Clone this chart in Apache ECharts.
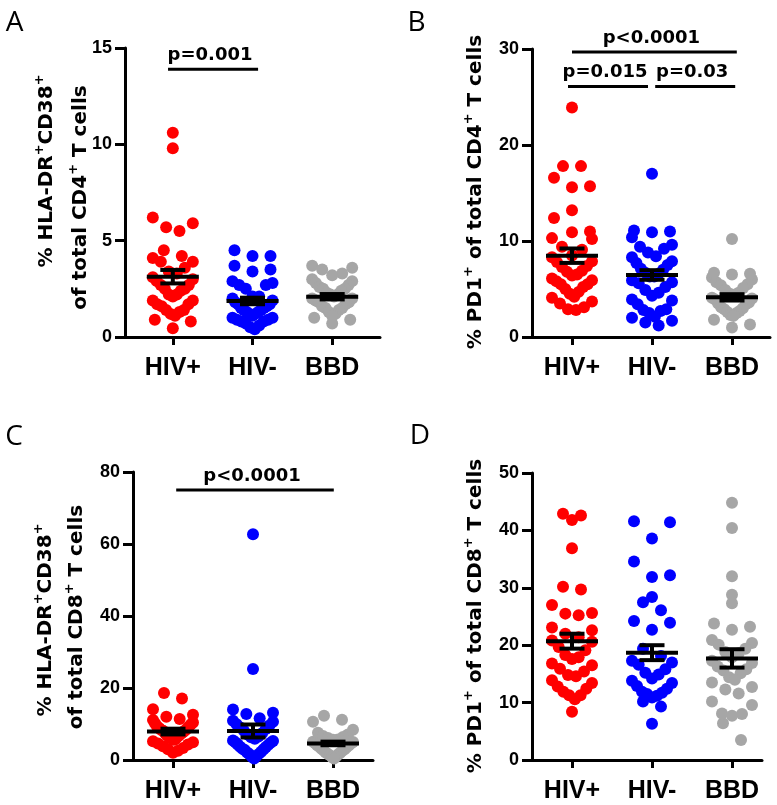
<!DOCTYPE html>
<html>
<head>
<meta charset="utf-8">
<script src="https://cdn.jsdelivr.net/npm/echarts@6/dist/echarts.min.js"></script>
<style>
  html, body { margin: 0; padding: 0; background: #fff; }
  #chart { width: 777px; height: 805px; }
</style>
</head>
<body>
<div id="chart"></div>
<script>
const groups = ['HIV+', 'HIV-', 'BBD']
const groupColors = ['#ff0000', '#0000ff', '#a6a6a6']

// A - % HLA-DR+CD38+ of CD4+
const aHivPos = [10.6, 9.8, 6.2, 5.9, 5.7, 5.5, 4.5, 4.2, 4.1, 3.9, 3.9, 3.6, 3.4, 3.3, 3.1, 3.0, 2.9, 2.7, 2.7, 2.5, 2.5, 2.4, 2.2, 2.2, 2.1, 1.9, 1.9, 1.7, 1.7, 1.6, 1.4, 1.4, 1.3, 1.2, 1.1, 0.9, 0.8, 0.45]
const aHivNeg = [4.5, 4.2, 4.2, 3.7, 3.5, 3.4, 2.9, 2.8, 2.7, 2.7, 2.5, 2.1, 2.1, 2.0, 1.9, 1.8, 1.7, 1.7, 1.6, 1.5, 1.5, 1.4, 1.4, 1.3, 1.3, 1.2, 1.2, 1.1, 1.0, 1.0, 0.9, 0.9, 0.8, 0.8, 0.7, 0.6, 0.5, 0.4]
const aBbd = [3.7, 3.6, 3.5, 3.3, 3.2, 3.0, 2.9, 2.8, 2.7, 2.6, 2.5, 2.5, 2.4, 2.3, 2.2, 2.2, 2.1, 2.0, 2.0, 1.9, 1.8, 1.8, 1.7, 1.6, 1.5, 1.5, 1.4, 1.3, 1.2, 1.1, 1.0, 0.9, 0.7]
const aMean = [3.13, 1.87, 2.09]
const aSem = [0.35, 0.17, 0.14]
const aBrackets = [[-0.06, 1.07, 13.9]]
const aPLabels = ['p=0.001']

// B - % PD1+ of CD4+
const bHivPos = [23.9, 17.8, 17.8, 16.6, 15.7, 15.6, 13.2, 12.4, 11.0, 10.9, 10.3, 10.2, 9.4, 9.1, 8.5, 8.3, 7.9, 7.8, 7.4, 7.3, 6.9, 6.8, 6.5, 6.4, 6.1, 5.9, 5.8, 5.5, 5.5, 5.2, 5.0, 4.7, 4.5, 4.2, 4.1, 3.7, 3.5, 3.1, 2.9, 2.8]
const bHivNeg = [17.0, 11.1, 11.0, 10.9, 10.4, 9.6, 9.4, 9.2, 8.8, 8.4, 8.3, 7.9, 7.7, 7.5, 7.1, 7.0, 6.7, 6.6, 6.3, 6.3, 5.9, 5.7, 5.6, 5.2, 4.9, 4.6, 4.3, 3.9, 3.8, 3.4, 2.9, 2.8, 2.7, 2.5, 2.1, 2.0, 1.7, 1.5, 1.2]
const bBbd = [10.2, 6.7, 6.6, 6.5, 6.2, 6.0, 5.7, 5.5, 5.4, 5.1, 4.9, 4.6, 4.5, 4.4, 4.1, 4.0, 3.9, 3.6, 3.5, 3.4, 3.1, 3.0, 2.9, 2.7, 2.6, 2.5, 2.3, 2.2, 1.8, 1.3, 1.0]
const bMean = [8.47, 6.46, 4.13]
const bSem = [0.75, 0.5, 0.33]
const bBrackets = [[0.0, 2.06, 29.7], [-0.05, 0.95, 26.1], [1.04, 2.04, 26.1]]
const bPLabels = ['p<0.0001', 'p=0.015', 'p=0.03']

// C - % HLA-DR+CD38+ of CD8+
const cHivPos = [18.6, 17.1, 14.1, 12.6, 12.0, 11.4, 11.1, 10.4, 10.2, 9.9, 9.4, 9.3, 8.9, 8.7, 8.4, 8.2, 8.1, 7.7, 7.5, 7.3, 6.9, 6.8, 6.4, 6.3, 6.0, 5.7, 5.6, 5.2, 4.9, 4.6, 4.3, 3.8, 3.3, 3.0, 2.6, 2.0]
const cHivNeg = [62.7, 25.3, 14.0, 13.1, 12.8, 11.6, 10.9, 10.6, 9.9, 9.6, 9.0, 8.6, 8.1, 7.4, 7.1, 6.5, 6.3, 5.9, 5.4, 5.3, 4.9, 4.8, 4.3, 4.2, 3.7, 3.6, 3.1, 3.0, 2.8, 2.3, 2.1, 1.7, 1.6, 1.1, 0.9, 0.4]
const cBbd = [12.3, 11.2, 10.6, 8.4, 7.6, 7.1, 6.7, 6.4, 6.1, 5.7, 5.6, 5.1, 5.0, 4.7, 4.6, 4.1, 4.0, 3.7, 3.6, 3.1, 3.0, 2.7, 2.6, 2.1, 2.0, 1.7, 1.6, 1.3, 1.0, 0.8, 0.4]
const cMean = [7.9, 8.06, 4.6]
const cSem = [0.8, 1.8, 0.5]
const cBrackets = [[0.04, 2.01, 75]]
const cPLabels = ['p<0.0001']

// D - % PD1+ of CD8+
const dHivPos = [42.9, 42.6, 41.8, 36.9, 30.2, 29.7, 27.0, 25.6, 25.5, 25.2, 23.1, 22.6, 22.0, 21.4, 20.8, 20.6, 19.7, 19.1, 18.3, 17.9, 17.6, 16.8, 16.5, 15.9, 15.4, 14.8, 14.6, 13.9, 13.4, 12.8, 12.4, 11.9, 11.3, 11.3, 10.6, 8.4]
const dHivNeg = [41.6, 41.4, 38.6, 34.6, 32.2, 31.9, 28.4, 27.5, 26.1, 24.2, 23.9, 22.7, 19.4, 18.1, 17.3, 17.0, 16.6, 15.8, 15.2, 14.9, 14.2, 13.8, 13.4, 12.9, 12.4, 11.9, 11.7, 11.5, 11.2, 10.9, 10.2, 9.3, 6.3]
const dBbd = [44.8, 40.4, 32.0, 28.8, 27.3, 23.8, 23.2, 22.7, 20.9, 20.4, 20.1, 19.4, 18.8, 18.6, 17.9, 17.3, 16.9, 16.3, 15.8, 15.6, 15.1, 14.4, 14.0, 13.5, 12.7, 12.3, 11.6, 10.2, 9.6, 8.1, 8.0, 7.7, 6.4, 3.5]
const dMean = [20.7, 18.7, 17.7]
const dSem = [1.3, 1.3, 1.6]

// layout of the four panels
const panels = [
  { data: [aHivPos, aHivNeg, aBbd], mean: aMean, sem: aSem, brackets: aBrackets, pLabels: aPLabels,
    grid: { left: 125, top: 48, width: 255, height: 289 }, xr: [-0.6, 2.6], yr: [0, 15], step: 5 },
  { data: [bHivPos, bHivNeg, bBbd], mean: bMean, sem: bSem, brackets: bBrackets, pLabels: bPLabels,
    grid: { left: 532, top: 49, width: 238, height: 288 }, xr: [-0.5, 2.475], yr: [0, 30], step: 10 },
  { data: [cHivPos, cHivNeg, cBbd], mean: cMean, sem: cSem, brackets: cBrackets, pLabels: cPLabels,
    grid: { left: 133, top: 472, width: 240, height: 288 }, xr: [-0.5, 2.5], yr: [0, 80], step: 20 },
  { data: [dHivPos, dHivNeg, dBbd], mean: dMean, sem: dSem, brackets: [], pLabels: [],
    grid: { left: 532, top: 473, width: 230, height: 287 }, xr: [-0.5, 2.375], yr: [0, 50], step: 10 }
]

const DOT = 12
const BIN_PX = 20
const HALF_MAX = 20
const STEP_MAX = 18

// GraphPad-like spreading: values close in height share a row, spread around the group centre
function spread(values, idx, p) {
  const pxY = p.grid.height / (p.yr[1] - p.yr[0])
  const pxX = p.grid.width / (p.xr[1] - p.xr[0])
  const bins = {}
  values.forEach(v => {
    const b = Math.floor(v * pxY / BIN_PX)
    ;(bins[b] = bins[b] || []).push(v)
  })
  const pts = []
  Object.values(bins).forEach(list => {
    list.sort((a, b) => b - a)
    const n = list.length
    const step = n > 1 ? Math.min(STEP_MAX, 2 * HALF_MAX / (n - 1)) : 0
    const slots = list.map((v, k) => (k - (n - 1) / 2) * step)
    const order = []
    let l = 0, r = n - 1
    while (l <= r) {
      order.push(l++)
      if (l <= r) order.push(r--)
    }
    list.forEach((v, j) => pts.push([idx + slots[order[j]] / pxX, v]))
  })
  return pts
}

const axisColor = '#000'
const grids = [], xAxes = [], yAxes = [], series = []

panels.forEach((p, i) => {
  grids.push(p.grid)
  xAxes.push({
    type: 'value', gridIndex: i, min: p.xr[0], max: p.xr[1],
    splitLine: { show: false },
    axisLine: { show: true, onZero: false, lineStyle: { color: axisColor, width: 3 } },
    axisTick: { show: true, customValues: [0, 1, 2], length: 8, lineStyle: { color: axisColor, width: 3 } },
    axisLabel: {
      customValues: [0, 1, 2], formatter: v => groups[v], margin: 19,
      fontSize: 25, fontWeight: 'bold', fontFamily: 'Liberation Sans', color: '#000'
    }
  })
  yAxes.push({
    type: 'value', gridIndex: i, min: p.yr[0], max: p.yr[1], interval: p.step,
    splitLine: { show: false },
    axisLine: { show: true, onZero: false, lineStyle: { color: axisColor, width: 3 } },
    axisTick: { show: true, length: 10, lineStyle: { color: axisColor, width: 3 } },
    axisLabel: { margin: 13, fontSize: 18, fontWeight: 'bold', fontFamily: 'Liberation Sans', color: '#000' }
  })

  p.data.forEach((vals, g) => {
    series.push({
      type: 'scatter', xAxisIndex: i, yAxisIndex: i, symbolSize: DOT, z: 2,
      itemStyle: { color: groupColors[g], opacity: 1 },
      data: spread(vals, g, p)
    })
  })

  // mean +/- SEM
  series.push({
    type: 'custom', xAxisIndex: i, yAxisIndex: i, z: 5,
    data: groups.map((g, k) => [k, p.mean[k], p.sem[k]]),
    renderItem: (params, api) => {
      const c = api.coord([api.value(0), api.value(1)])
      const hi = api.coord([api.value(0), api.value(1) + api.value(2)])
      const lo = api.coord([api.value(0), api.value(1) - api.value(2)])
      const st = { stroke: '#000', lineWidth: 4 }
      return {
        type: 'group',
        children: [
          { type: 'line', shape: { x1: c[0] - 26, y1: c[1], x2: c[0] + 26, y2: c[1] }, style: st },
          { type: 'line', shape: { x1: c[0], y1: hi[1], x2: c[0], y2: lo[1] }, style: st },
          { type: 'line', shape: { x1: c[0] - 12.5, y1: hi[1], x2: c[0] + 12.5, y2: hi[1] }, style: st },
          { type: 'line', shape: { x1: c[0] - 12.5, y1: lo[1], x2: c[0] + 12.5, y2: lo[1] }, style: st }
        ]
      }
    }
  })

  // significance brackets
  if (p.brackets.length) {
    series.push({
      type: 'custom', xAxisIndex: i, yAxisIndex: i, z: 5,
      encode: { x: [0, 1], y: 2 },
      data: p.brackets,
      renderItem: (params, api) => {
        const p1 = api.coord([api.value(0), api.value(2)])
        const p2 = api.coord([api.value(1), api.value(2)])
        return {
          type: 'group',
          children: [
            { type: 'line', shape: { x1: p1[0], y1: p1[1], x2: p2[0], y2: p2[1] }, style: { stroke: '#000', lineWidth: 3 } },
            {
              type: 'text', x: (p1[0] + p2[0]) / 2 - 3, y: p1[1] - 5,
              style: {
                text: p.pLabels[params.dataIndex], align: 'center', verticalAlign: 'bottom',
                font: 'bold 18px "DejaVu Sans"', fill: '#000'
              }
            }
          ]
        }
      }
    })
  }
})

const titleRich = {
  n: { fontSize: 20, fontWeight: 'bold', fontFamily: 'DejaVu Sans', lineHeight: 26 },
  s: { fontSize: 13, fontWeight: 'bold', fontFamily: 'DejaVu Sans', lineHeight: 13, verticalAlign: 'top' }
}
const titles = [
  { x: 46.5, y: 171, text: '{n|% HLA-DR}{s|+}{n|CD38}{s|+}' },
  { x: 80.5, y: 197.5, text: '{n|of total CD4}{s|+}{n| T cells}' },
  { x: 475.5, y: 192, text: '{n|% PD1}{s|+}{n| of total CD4}{s|+}{n| T cells}' },
  { x: 45.5, y: 620, text: '{n|% HLA-DR}{s|+}{n|CD38}{s|+}' },
  { x: 76.5, y: 617, text: '{n|of total CD8}{s|+}{n| T cells}' },
  { x: 475.5, y: 616, text: '{n|% PD1}{s|+}{n| of total CD8}{s|+}{n| T cells}' }
]
const letters = [
  { x: 14.5, y: 23, text: 'A' },
  { x: 416.5, y: 23, text: 'B' },
  { x: 14, y: 437.5, text: 'C' },
  { x: 420, y: 436, text: 'D' }
]

const graphic = titles.map(t => ({
  type: 'text', x: t.x, y: t.y, rotation: Math.PI / 2,
  style: { text: t.text, rich: titleRich, align: 'center', verticalAlign: 'middle', fill: '#000' }
})).concat(letters.map(t => ({
  type: 'text', x: t.x, y: t.y,
  style: { text: t.text, font: '28px "Open Sans"', align: 'center', verticalAlign: 'middle', fill: '#000' }
})))

const chart = echarts.init(document.getElementById('chart'), null, { renderer: 'canvas' })
chart.setOption({
  animation: false,
  backgroundColor: '#fff',
  grid: grids,
  xAxis: xAxes,
  yAxis: yAxes,
  series: series,
  graphic: graphic
})
</script>
</body>
</html>
